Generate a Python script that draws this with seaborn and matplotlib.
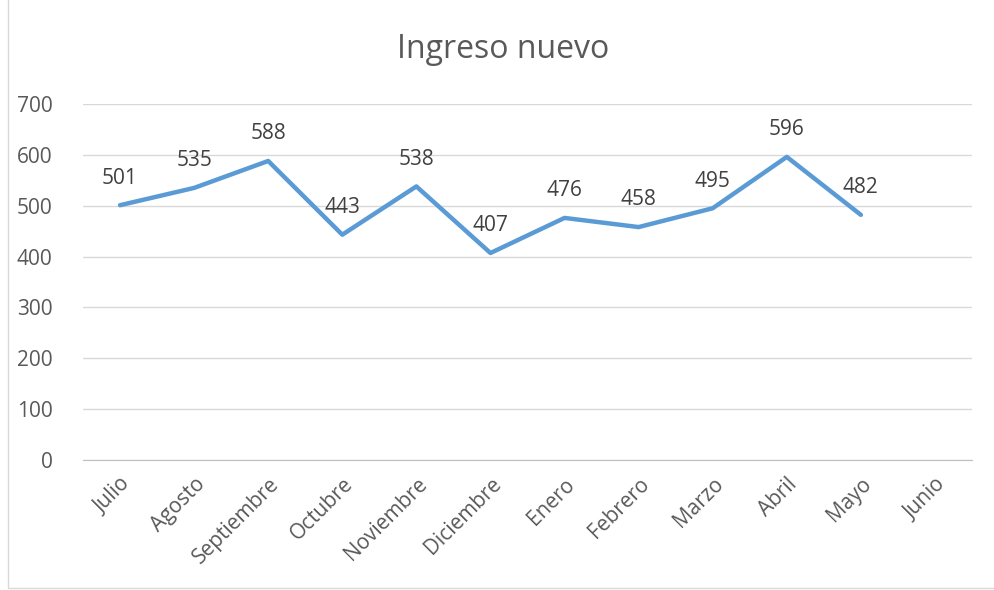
import numpy as np
import pandas as pd
import seaborn as sns
import matplotlib.pyplot as plt

meses = ["Julio", "Agosto", "Septiembre", "Octubre", "Noviembre", "Diciembre",
         "Enero", "Febrero", "Marzo", "Abril", "Mayo", "Junio"]
ingreso = [501, 535, 588, 443, 538, 407, 476, 458, 495, 596, 482, np.nan]

data = pd.DataFrame({"mes": meses, "ingreso": ingreso})
data["pos"] = range(len(meses))

sns.set_style("white")
plt.rcParams["font.family"] = ["Open Sans", "DejaVu Sans"]

fig = plt.figure(figsize=(9.95, 5.9), dpi=100)
ax = fig.add_axes([83 / 995, 1 - 460 / 590, 889 / 995, 356 / 590])

sns.lineplot(x="pos", y="ingreso", data=data, ax=ax, color="#5B9BD5",
             linewidth=3.2, solid_joinstyle="round", solid_capstyle="round")

for x, y in zip(data["pos"], data["ingreso"]):
    if not np.isnan(y):
        ax.annotate(f"{int(y)}", (x, y), xytext=(0, 12), textcoords="offset points",
                    ha="center", va="bottom", fontsize=15, color="#404040")

ax.set_xlim(-0.5, len(meses) - 0.5)
ax.set_ylim(0, 700)
ax.set_yticks(range(0, 701, 100))
ax.set_xticks(data["pos"])
ax.set_xticklabels(meses, rotation=45, ha="right", rotation_mode="anchor")
ax.tick_params(axis="both", labelsize=15, colors="#595959", length=0)
ax.tick_params(axis="y", pad=22)
ax.tick_params(axis="x", pad=10)
ax.grid(axis="y", color="#D9D9D9", linewidth=1)
ax.set_axisbelow(True)
for s in ["top", "right", "left"]:
    ax.spines[s].set_visible(False)
ax.spines["bottom"].set_color("#BFBFBF")
ax.set_xlabel("")
ax.set_ylabel("")

fig.text(0.506, 1 - 50 / 590, "Ingreso nuevo", ha="center", va="center",
         fontsize=23, color="#595959")

border = plt.Rectangle((8 / 995, 2 / 590), 1.1, 1.1, transform=fig.transFigure,
                       fill=False, edgecolor="#D9D9D9", linewidth=1)
fig.patches.append(border)

fig.savefig("out.png", dpi=100)
